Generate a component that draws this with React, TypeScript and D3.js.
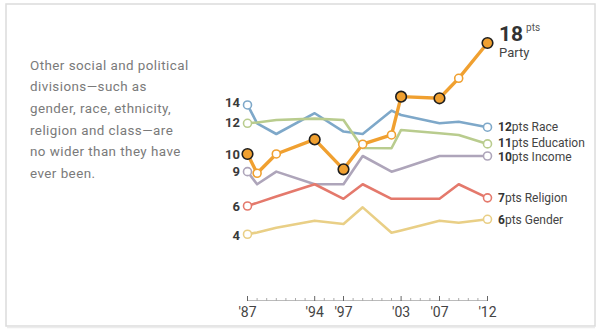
import React from "react";
import * as d3 from "d3";

const years = [1987, 1988, 1990, 1994, 1997, 1999, 2002, 2003, 2007, 2009, 2012];
const party = [9.83, 8.41, 9.83, 10.9, 8.7, 10.55, 11.23, 14.05, 13.93, 15.4, 18.0];
const partyFilled = [true, false, false, true, true, false, false, true, true, false, true];
const race = [13.44, 12.09, 11.3, 12.83, 11.48, 11.3, 13.02, 12.7, 12.09, 12.2, 11.8];
const education = [12.09, 12.15, 12.33, 12.43, 12.33, 10.27, 10.25, 11.6, 11.35, 11.23, 10.57];
const income = [8.53, 7.6, 8.53, 7.6, 7.6, 9.68, 8.53, 8.75, 9.68, 9.68, 9.68];
const religion = [6.0, 6.23, 6.7, 7.6, 6.53, 7.6, 6.53, 6.53, 6.53, 7.6, 6.6];
const gender = [3.92, 4.05, 4.4, 4.92, 4.68, 5.9, 4.03, 4.2, 4.92, 4.77, 5.02];

const startLabels = ["10", "14", "12", "9", "6", "4"];
const endNumbers = ["18", "12", "11", "10", "7", "6"];
const endNames = ["Party", "Race", "Education", "Income", "Religion", "Gender"];
const majorTicks = [1987, 1994, 1997, 2003, 2007, 2012];
const majorTickLabels = ["'87", "'94", "'97", "'03", "'07", "'12"];
const introLines = [
  "Other social and political",
  "divisions\u2014such as",
  "gender, race, ethnicity,",
  "religion and class\u2014are",
  "no wider than they have",
  "ever been.",
];

const W = 600;
const H = 332;
const FONT = "Roboto, 'Liberation Sans', sans-serif";

export default function App() {
  const x = d3.scaleLinear().domain([1987, 2012]).range([247.5, 487.5]);
  const y = d3.scaleLinear().domain([0, 18]).range([287.5, 43]);
  const line = d3
    .line<number>()
    .x((_, i) => x(years[i]))
    .y((v) => y(v));

  const others = [
    { vals: race, color: "#7ea8c9", idx: 1 },
    { vals: education, color: "#b9cc8e", idx: 2 },
    { vals: income, color: "#aea5ba", idx: 3 },
    { vals: religion, color: "#e4796c", idx: 4 },
    { vals: gender, color: "#e9cf86", idx: 5 },
  ];
  const endDy = [0, 0, -0.8, 0.8, 0, 0];
  const minorYears = d3.range(1987, 2013);

  return (
    <svg
      width={W}
      height={H}
      style={{ position: "absolute", left: 0, top: 0, background: "#fff" }}
      fontFamily={FONT}
    >
      <rect x={6} y={4} width={589} height={322} fill="#fff" stroke="#dcdcdc" strokeWidth={1.5} />
      <line x1={7} x2={595} y1={327.5} y2={327.5} stroke="#ececec" strokeWidth={1.5} />

      {introLines.map((t, i) => (
        <text key={i} x={30} y={69.5 + i * 21.7} fontSize={13.4} fill="#7a7a7a" letterSpacing={0.45}>
          {t}
        </text>
      ))}

      {/* axis */}
      <line x1={x(1987)} x2={x(2012)} y1={300.5} y2={300.5} stroke="#bbb" strokeWidth={1} />
      {minorYears.map((yr) => {
        const major = majorTicks.includes(yr);
        return (
          <line
            key={yr}
            x1={x(yr)}
            x2={x(yr)}
            y1={major ? 296 : 298}
            y2={301}
            stroke={major ? "#666" : "#aaa"}
            strokeWidth={1}
          />
        );
      })}
      {majorTicks.map((yr, i) => (
        <text key={yr} x={x(yr)} y={317} textAnchor="middle" fontSize={14} fill="#444">
          {majorTickLabels[i]}
        </text>
      ))}

      {/* other series */}
      {others.map((s) => (
        <g key={s.idx}>
          <path d={line(s.vals) || ""} fill="none" stroke={s.color} strokeWidth={2.6} strokeLinejoin="round" />
          <circle cx={x(years[0])} cy={y(s.vals[0])} r={4} fill="#fff" stroke={s.color} strokeWidth={1.6} />
          <circle
            cx={x(years[years.length - 1])}
            cy={y(s.vals[s.vals.length - 1])}
            r={4}
            fill="#fff"
            stroke={s.color}
            strokeWidth={1.6}
          />
        </g>
      ))}

      {/* party */}
      <path d={line(party) || ""} fill="none" stroke="#f0a030" strokeWidth={3.4} strokeLinejoin="round" />
      {party.map((v, i) =>
        partyFilled[i] ? (
          <circle key={i} cx={x(years[i])} cy={y(v)} r={5.3} fill="#f0a030" stroke="#1e1e1e" strokeWidth={1.6} />
        ) : (
          <circle key={i} cx={x(years[i])} cy={y(v)} r={4} fill="#fff" stroke="#f0a030" strokeWidth={1.6} />
        )
      )}

      {/* start labels */}
      {[party, race, education, income, religion, gender].map((vals, i) => (
        <text
          key={i}
          x={240}
          y={y(vals[0]) + [0, -3, -1, 0, 0, 1][i]}
          dy="0.36em"
          textAnchor="end"
          fontSize={13}
          fontWeight="bold"
          fill="#3a3a3a"
        >
          {startLabels[i]}
        </text>
      ))}

      {/* end labels */}
      <text x={499} y={40.5} fontSize={21} fontWeight="bold" fill="#333">
        {endNumbers[0]}
        <tspan fontSize={10} fontWeight="normal" fill="#555" dx={3} dy={-10}>
          pts
        </tspan>
      </text>
      <text x={499} y={57} fontSize={13} fill="#444">
        {endNames[0]}
      </text>
      {others.map((s) => (
        <text
          key={s.idx}
          x={498}
          y={y(s.vals[s.vals.length - 1]) + endDy[s.idx]}
          dy="0.35em"
          fontSize={12}
          fill="#444"
        >
          <tspan fontWeight="bold" fill="#333">
            {endNumbers[s.idx]}
          </tspan>
          <tspan>{"pts " + endNames[s.idx]}</tspan>
        </text>
      ))}
    </svg>
  );
}
